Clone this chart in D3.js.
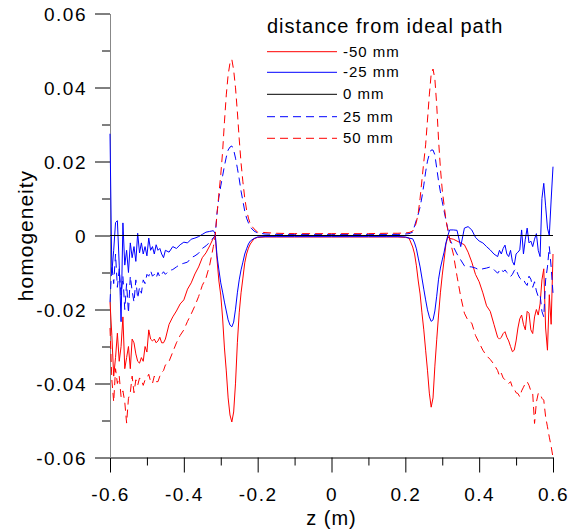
<!DOCTYPE html>
<html>
<head>
<meta charset="utf-8">
<script src="https://cdn.jsdelivr.net/npm/d3@7"></script>
<style>
  body { margin: 0; background: #fff; }
  text { font-family: "Liberation Sans", Arial, sans-serif; fill: #000; }
</style>
</head>
<body>
<div id="chart-container"></div>
<script>
// sample positions along z (m)
const zGrid = [
  -0.600, -0.595, -0.590, -0.585, -0.580, -0.575, -0.570, -0.565, -0.560, -0.555,
  -0.550, -0.545, -0.540, -0.535, -0.530, -0.525, -0.520, -0.515, -0.510, -0.505,
  -0.500, -0.495, -0.490, -0.485, -0.480, -0.475, -0.470, -0.465, -0.460, -0.455,
  -0.450, -0.440, -0.430, -0.420, -0.410, -0.400, -0.390, -0.380, -0.370, -0.360,
  -0.350, -0.340, -0.330, -0.320, -0.315,
  -0.310, -0.305, -0.300, -0.295, -0.290, -0.285, -0.280, -0.275, -0.270, -0.265,
  -0.260, -0.255, -0.250, -0.245, -0.240, -0.235, -0.230, -0.225, -0.220,
  -0.210, -0.200, -0.180, -0.150, -0.100, -0.050, 0, 0.050, 0.100, 0.150, 0.180, 0.200, 0.210,
  0.220, 0.225, 0.230, 0.235, 0.240, 0.245, 0.250, 0.255, 0.260, 0.265,
  0.270, 0.275, 0.280, 0.285, 0.290, 0.295, 0.300, 0.305, 0.310, 0.315,
  0.320, 0.330, 0.340, 0.350, 0.360, 0.370, 0.380, 0.390, 0.400, 0.410,
  0.420, 0.430, 0.440, 0.450,
  0.455, 0.460, 0.465, 0.470, 0.475, 0.480, 0.485, 0.490, 0.495, 0.500,
  0.505, 0.510, 0.515, 0.520, 0.525, 0.530, 0.535, 0.540, 0.545, 0.550,
  0.555, 0.560, 0.565, 0.570, 0.575, 0.580, 0.585, 0.590, 0.595, 0.600
];

// -50 mm
const hMinus50 = [
  -0.018, -0.027, -0.038, -0.033, -0.0264, -0.034, -0.030, -0.022, -0.036, -0.033,
  -0.030, -0.036, -0.028, -0.029, -0.032, -0.034, -0.0345, -0.033, -0.034, -0.030,
  -0.0315, -0.0255, -0.028, -0.0285, -0.028, -0.029, -0.0285, -0.0275, -0.029, -0.029,
  -0.028, -0.024, -0.022, -0.0204, -0.0185, -0.0174, -0.0145, -0.0128, -0.0104, -0.0085,
  -0.006, -0.0047, -0.0028, -0.0007, 0,
  -0.0066, -0.0123, -0.0161, -0.0223, -0.0304, -0.0366, -0.0439, -0.0485, -0.0504, -0.0477,
  -0.0399, -0.029, -0.0209, -0.0155, -0.0115, -0.0074, -0.005, -0.0034, -0.0023,
  -0.0009, -0.0005, -0.0004, -0.0004, -0.0004, -0.0004, -0.0004, -0.0004, -0.0004, -0.0004, -0.0004, -0.0005, -0.0007,
  -0.0031, -0.005, -0.0082, -0.0123, -0.0158, -0.0209, -0.0255, -0.031, -0.0364, -0.0426,
  -0.0464, -0.0439, -0.0353, -0.0282, -0.0215, -0.0155, -0.0107, -0.0066, -0.0023, -0.0004,
  -0.0008, -0.001, -0.0015, -0.002, -0.0025, -0.0045, -0.0072, -0.0105, -0.0125, -0.0155,
  -0.019, -0.0205, -0.024, -0.0275,
  -0.028, -0.0275, -0.0265, -0.026, -0.0275, -0.0285, -0.030, -0.0314, -0.031, -0.0285,
  -0.025, -0.0225, -0.0215, -0.024, -0.0255, -0.0205, -0.021, -0.0255, -0.0265, -0.022,
  -0.020, -0.0215, -0.0185, -0.012, -0.009, -0.025, -0.031, -0.016, -0.024, -0.005
];

// -25 mm
const hMinus25 = [
  0.0275, -0.010, -0.004, 0.0035, 0.004, -0.008, -0.0233, 0.0034, -0.008, -0.004,
  -0.010, -0.002, -0.006, -0.003, -0.007, 0.0006, -0.0047, -0.002, -0.005, -0.003,
  -0.0055, -0.0007, -0.004, -0.003, -0.005, -0.0025, -0.004, -0.0035, -0.005, -0.006,
  -0.004, -0.0045, -0.003, -0.0035, -0.0025, -0.0018, -0.002, -0.001, -0.0007, -0.0003,
  0.0003, 0.0009, 0.0011, 0.0013, 0.0005,
  -0.0055, -0.0093, -0.0128, -0.0153, -0.018, -0.0204, -0.0228, -0.0242, -0.0247, -0.0234,
  -0.0199, -0.0155, -0.012, -0.0093, -0.0072, -0.005, -0.0036, -0.0023, -0.0015,
  -0.0008, -0.0004, -0.0003, -0.0003, -0.0003, -0.0003, -0.0003, -0.0003, -0.0003, -0.0003, -0.0003, -0.0004, -0.0007,
  -0.0009, -0.002, -0.0036, -0.0061, -0.0085, -0.0115, -0.0145, -0.0174, -0.0201, -0.022,
  -0.0232, -0.0228, -0.0204, -0.0164, -0.0118, -0.0088, -0.0066, -0.0045, -0.002, -0.0001,
  0.0015, 0.0015, 0.0014, -0.003, 0.002, 0.0024, 0.0015, -0.0005, -0.0015, -0.002,
  -0.003, -0.0039, -0.005, -0.0057,
  -0.004, -0.005, -0.0035, -0.0026, -0.005, -0.0057, -0.004, -0.007, -0.008, -0.005,
  -0.0045, -0.0039, 0.0015, -0.005, -0.001, 0.002, -0.002, -0.0015, -0.003, -0.001,
  0.0005, -0.004, -0.0057, 0.010, 0.0141, 0.008, 0.002, 0.0, 0.0096, 0.0186
];

// 0 mm
const zZero = [-0.6, 0.6];
const hZero = [0, 0];

// 25 mm
const hPlus25 = [
  -0.018, -0.008, -0.013, -0.005, -0.014, -0.009, -0.016, -0.011, -0.020, -0.013,
  -0.021, -0.011, -0.015, -0.018, -0.012, -0.017, -0.014, -0.0156, -0.012, -0.013,
  -0.0105, -0.011, -0.0095, -0.011, -0.0105, -0.0115, -0.010, -0.0112, -0.0105, -0.0098,
  -0.0105, -0.0095, -0.0092, -0.0085, -0.0078, -0.0075, -0.0072, -0.006, -0.0055, -0.0048,
  -0.0035, -0.0028, -0.0018, -0.0006, 0,
  0.0061, 0.0104, 0.0134, 0.0161, 0.0188, 0.0212, 0.0231, 0.0239, 0.0242, 0.0231,
  0.0209, 0.0182, 0.0153, 0.012, 0.0093, 0.0066, 0.0047, 0.0034, 0.0023,
  0.0012, 0.0007, 0.0004, 0.0003, 0.0003, 0.0003, 0.0003, 0.0003, 0.0003, 0.0003, 0.0003, 0.0004, 0.0005,
  0.0009, 0.0026, 0.0042, 0.0058, 0.0077, 0.0104, 0.0136, 0.0172, 0.0201, 0.022,
  0.0231, 0.0231, 0.0218, 0.0182, 0.0147, 0.0118, 0.0091, 0.0066, 0.0042, 0.0018,
  -0.001, -0.003, -0.005, -0.0066, -0.0082, -0.0084, -0.0085, -0.0088, -0.0093, -0.009,
  -0.0088, -0.0085, -0.0092, -0.0102,
  -0.0095, -0.009, -0.0098, -0.0093, -0.010, -0.0105, -0.0111, -0.0105, -0.0095, -0.009,
  -0.0105, -0.0115, -0.012, -0.0118, -0.0129, -0.0135, -0.011, -0.0118, -0.014, -0.0125,
  -0.015, -0.0165, -0.016, -0.0205, -0.022, -0.012, -0.0085, -0.003, -0.0085, -0.0156
];

// 50 mm
const hPlus50 = [
  -0.025, -0.039, -0.045, -0.036, -0.040, -0.038, -0.0436, -0.042, -0.045, -0.0507,
  -0.044, -0.0425, -0.038, -0.0425, -0.039, -0.0405, -0.0385, -0.039, -0.0405, -0.039,
  -0.0385, -0.0375, -0.0395, -0.040, -0.038, -0.0395, -0.0395, -0.038, -0.037, -0.0365,
  -0.035, -0.034, -0.0315, -0.029, -0.027, -0.0255, -0.0232, -0.0212, -0.019, -0.0165,
  -0.0135, -0.0115, -0.008, -0.003, 0,
  0.006, 0.0112, 0.0164, 0.0226, 0.0307, 0.038, 0.0434, 0.0466, 0.0476, 0.0447,
  0.0399, 0.0334, 0.0261, 0.0196, 0.0145, 0.0101, 0.0069, 0.0047, 0.0031,
  0.0018, 0.0009, 0.0008, 0.0006, 0.0005, 0.0005, 0.0005, 0.0005, 0.0005, 0.0006, 0.0006, 0.0007, 0.0008,
  0.0012, 0.002, 0.0036, 0.0061, 0.0101, 0.015, 0.0199, 0.0245, 0.0312, 0.038,
  0.0436, 0.045, 0.0423, 0.0353, 0.0258, 0.0182, 0.0123, 0.0082, 0.0042, 0.0015,
  -0.001, -0.005, -0.011, -0.0165, -0.021, -0.023, -0.0237, -0.027, -0.029, -0.031,
  -0.0325, -0.0335, -0.0348, -0.0365,
  -0.038, -0.0372, -0.0385, -0.039, -0.0395, -0.040, -0.0395, -0.041, -0.0415, -0.0425,
  -0.0427, -0.0436, -0.042, -0.041, -0.040, -0.0395, -0.0405, -0.042, -0.0427, -0.0508,
  -0.045, -0.0427, -0.0427, -0.044, -0.0445, -0.049, -0.0517, -0.0545, -0.057, -0.060
];

const xTicks = [-0.6, -0.4, -0.2, 0, 0.2, 0.4, 0.6];
const xMinorTicks = [-0.5, -0.3, -0.1, 0.1, 0.3, 0.5];
const yTicks = [-0.06, -0.04, -0.02, 0, 0.02, 0.04, 0.06];
const yMinorTicks = [-0.05, -0.03, -0.01, 0.01, 0.03, 0.05];

const seriesLabels = ["-50 mm", "-25 mm", "0 mm", "25 mm", "50 mm"];
const seriesColors = ["#ff0000", "#0000ff", "#000000", "#0000ff", "#ff0000"];
const seriesDash = [null, null, null, "8,5", "8,5"];
const seriesX = [zGrid, zGrid, zZero, zGrid, zGrid];
const seriesY = [hMinus50, hMinus25, hZero, hPlus25, hPlus50];

const margin = { top: 13.5, right: 15, bottom: 74.5, left: 110 };
const width = 568 - margin.left - margin.right;
const height = 532 - margin.top - margin.bottom;

const svg = d3.select("#chart-container")
    .append("svg")
    .attr("width", width + margin.left + margin.right)
    .attr("height", height + margin.top + margin.bottom)
    .append("g")
    .attr("transform", `translate(${margin.left}, ${margin.top})`);

const xScale = d3.scaleLinear().domain([-0.6, 0.6]).range([0, width]);
const yScale = d3.scaleLinear().domain([-0.06, 0.06]).range([height, 0]);

// minor ticks first
svg.append("g")
    .attr("transform", `translate(0, ${height})`)
    .call(d3.axisBottom(xScale).tickValues(xMinorTicks).tickSize(8).tickFormat(""))
    .call(g => g.select(".domain").remove());
svg.append("g")
    .call(d3.axisLeft(yScale).tickValues(yMinorTicks).tickSize(8).tickFormat(""))
    .call(g => g.select(".domain").remove());

// X axis
svg.append("g")
    .attr("id", "x-axis")
    .attr("transform", `translate(0, ${height})`)
    .call(d3.axisBottom(xScale).tickValues(xTicks).tickSize(15).tickSizeOuter(0))
    .call(g => g.selectAll("text")
        .attr("y", 30)
        .text(d => d === 0 ? "0" : d3.format(".1f")(d).replace("−", "-"))
        .style("font-size", "19px")
        .style("letter-spacing", "1.5px"));

// Y axis
svg.append("g")
    .attr("id", "y-axis")
    .call(d3.axisLeft(yScale).tickValues(yTicks).tickSize(15).tickSizeOuter(0))
    .call(g => g.select(".domain").attr("stroke", "#888"))
    .call(g => g.selectAll("text")
        .attr("x", -23)
        .attr("dy", "0.38em")
        .text(d => d === 0 ? "0" : d3.format(".2f")(d).replace("−", "-"))
        .style("font-size", "19px")
        .style("letter-spacing", "1.5px"));

svg.selectAll(".tick line").attr("stroke", "#000");

// curves
const lineGen = d3.line()
    .x(d => xScale(d[0]))
    .y(d => yScale(d[1]));

seriesLabels.forEach((name, i) => {
    const pts = seriesX[i].map((z, j) => [z, seriesY[i][j]]);
    svg.append("path")
        .datum(pts)
        .attr("class", "series")
        .attr("fill", "none")
        .style("stroke", seriesColors[i])
        .attr("stroke-width", 1)
        .attr("stroke-dasharray", seriesDash[i])
        .attr("d", lineGen);
});

// axis titles
svg.append("text")
    .attr("x", xScale(0))
    .attr("y", height + 67)
    .attr("text-anchor", "middle")
    .style("font-size", "20px")
    .style("letter-spacing", "1px")
    .text("z (m)");

svg.append("text")
    .attr("transform", `translate(${33 - margin.left}, ${yScale(0)}) rotate(-90)`)
    .attr("text-anchor", "middle")
    .style("font-size", "21px")
    .style("letter-spacing", "1px")
    .text("homogeneity");

// legend
const legend = svg.append("g")
    .attr("transform", `translate(${267 - margin.left}, ${33 - margin.top})`);

legend.append("text")
    .attr("x", 0)
    .attr("y", 0)
    .style("font-size", "20px")
    .style("letter-spacing", "1px")
    .text("distance from ideal path");

const legendRows = [18.7, 39.3, 61.3, 83.7, 105.3];

seriesLabels.forEach((name, i) => {
    const ly = legendRows[i];
    legend.append("path")
        .attr("d", `M0,${ly}H70`)
        .attr("fill", "none")
        .style("stroke", seriesColors[i])
        .attr("stroke-width", 1)
        .attr("stroke-dasharray", seriesDash[i]);
    legend.append("text")
        .attr("x", 76)
        .attr("y", ly + 5)
        .style("font-size", "15px")
        .style("letter-spacing", "1px")
        .text(name);
});
</script>
</body>
</html>
